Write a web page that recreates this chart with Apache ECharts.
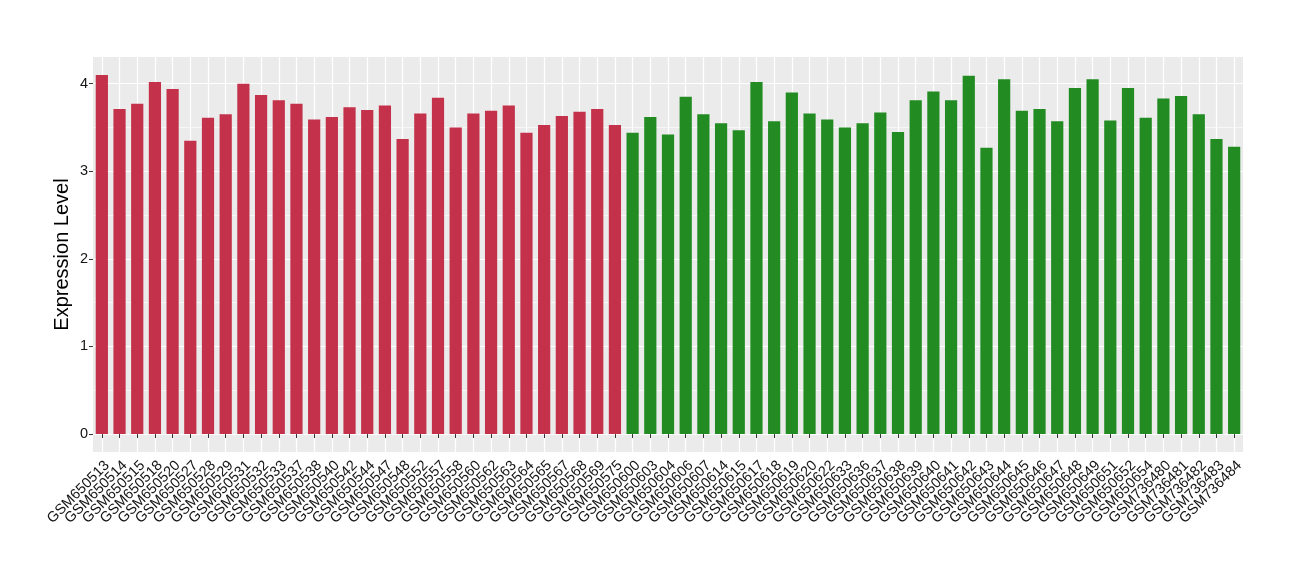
<!DOCTYPE html>
<html><head><meta charset="utf-8">
<script src="https://cdn.jsdelivr.net/npm/echarts@6/dist/echarts.min.js"></script>
<style>html,body{margin:0;padding:0;background:#fff}#c{width:1300px;height:580px}</style>
</head><body><div id="c"></div>
<script>
// ---- data ----
const categoriesRed = ['GSM650513','GSM650514','GSM650515','GSM650518','GSM650520','GSM650527','GSM650528','GSM650529','GSM650531','GSM650532','GSM650533','GSM650537','GSM650538','GSM650540','GSM650542','GSM650544','GSM650547','GSM650548','GSM650552','GSM650557','GSM650558','GSM650560','GSM650562','GSM650563','GSM650564','GSM650565','GSM650567','GSM650568','GSM650569','GSM650575'];
const valuesRed = [4.10,3.71,3.77,4.02,3.94,3.35,3.61,3.65,4.00,3.87,3.81,3.77,3.59,3.62,3.73,3.70,3.75,3.37,3.66,3.84,3.50,3.66,3.69,3.75,3.44,3.53,3.63,3.68,3.71,3.53];
const categoriesGreen = ['GSM650600','GSM650603','GSM650604','GSM650606','GSM650607','GSM650614','GSM650615','GSM650617','GSM650618','GSM650619','GSM650620','GSM650622','GSM650633','GSM650636','GSM650637','GSM650638','GSM650639','GSM650640','GSM650641','GSM650642','GSM650643','GSM650644','GSM650645','GSM650646','GSM650647','GSM650648','GSM650649','GSM650651','GSM650652','GSM650654','GSM736480','GSM736481','GSM736482','GSM736483','GSM736484'];
const valuesGreen = [3.44,3.62,3.42,3.85,3.65,3.55,3.47,4.02,3.57,3.90,3.66,3.59,3.50,3.55,3.67,3.45,3.81,3.91,3.81,4.09,3.27,4.05,3.69,3.71,3.57,3.95,4.05,3.58,3.95,3.61,3.83,3.86,3.65,3.37,3.28];
const yTickValues = [0, 1, 2, 3, 4];
const yTitle = 'Expression Level';

// ---- style ----
const colorRed = '#C3314A';
const colorGreen = '#228B22';
const font = '"Liberation Sans", Arial, Helvetica, sans-serif';
const textColor = '#141414';

const categories = categoriesRed.concat(categoriesGreen);
const barData = valuesRed.map(v => ({value: v, itemStyle: {color: colorRed}}))
  .concat(valuesGreen.map(v => ({value: v, itemStyle: {color: colorGreen}})));

// panel layout (pixels) and ggplot-like expanded range
const panel = {left: 93, right: 1243, top: 57, bottom: 452};
const allVals = valuesRed.concat(valuesGreen);
const dMax = Math.max(...allVals), dMin = 0;
const pad = (dMax - dMin) * 0.05;
const yMin = dMin - pad, yMax = dMax + pad;
const pxPerUnit = (panel.bottom - panel.top) / (yMax - yMin);
const tMin = yTickValues[0], tMax = yTickValues[yTickValues.length - 1];
const g2Top = panel.top + (yMax - tMax) * pxPerUnit;
const g2Bottom = panel.bottom - (tMin - yMin) * pxPerUnit;
const band = (panel.right - panel.left) / categories.length;

const chart = echarts.init(document.getElementById('c'), null, {renderer: 'canvas'});
chart.setOption({
  animation: false,
  backgroundColor: '#ffffff',
  textStyle: {fontFamily: font},
  grid: [
    {left: panel.left, top: panel.top, width: panel.right - panel.left, height: panel.bottom - panel.top,
     show: true, backgroundColor: '#EBEBEB', borderWidth: 0, containLabel: false, outerBoundsMode: 'none'},
    {left: panel.left, top: g2Top, width: panel.right - panel.left, height: g2Bottom - g2Top,
     show: false, containLabel: false, outerBoundsMode: 'none'},
    {left: panel.left + band / 2, top: panel.top, width: panel.right - panel.left - band, height: panel.bottom - panel.top,
     show: false, containLabel: false, outerBoundsMode: 'none'}
  ],
  xAxis: [
    {type: 'category', gridIndex: 0, data: categories,
     axisLine: {show: false},
     axisTick: {show: true, alignWithLabel: true, interval: 0, length: 4, lineStyle: {color: '#333', width: 1}},
     axisLabel: {show: true, interval: 0, rotate: 45, margin: 6, fontSize: 14.5, color: textColor, fontFamily: font,
                 align: 'right', verticalAlign: 'top'},
     splitLine: {show: false}},
    {type: 'value', gridIndex: 1, show: false, min: 0, max: 1},
    {type: 'value', gridIndex: 2, min: 0, max: categories.length - 1, interval: 1,
     axisLine: {show: false}, axisTick: {show: false}, axisLabel: {show: false},
     splitLine: {show: true, lineStyle: {color: '#ffffff', width: 1.2}}}
  ],
  yAxis: [
    {type: 'value', gridIndex: 0, min: yMin, max: yMax,
     axisLine: {show: false}, axisTick: {show: false}, axisLabel: {show: false}, splitLine: {show: false},
     name: yTitle, nameLocation: 'middle', nameGap: 21, nameRotate: 90,
     nameTextStyle: {fontSize: 20, color: '#000', fontFamily: font}},
    {type: 'value', gridIndex: 1, min: tMin, max: tMax, interval: 1,
     axisLine: {show: false},
     axisTick: {show: true, length: 4, lineStyle: {color: '#333', width: 1}},
     axisLabel: {show: true, margin: 5, fontSize: 14.5, color: textColor, fontFamily: font},
     splitLine: {show: true, lineStyle: {color: '#ffffff', width: 1.2}},
     minorTick: {show: false, splitNumber: 2},
     minorSplitLine: {show: true, lineStyle: {color: '#ffffff', width: 0.6}}},
    {type: 'value', gridIndex: 2, show: false, min: 0, max: 1}
  ],
  series: [
    {type: 'bar', xAxisIndex: 0, yAxisIndex: 0, data: barData, barWidth: '69%', z: 3}
  ]
});
</script>
</body></html>
